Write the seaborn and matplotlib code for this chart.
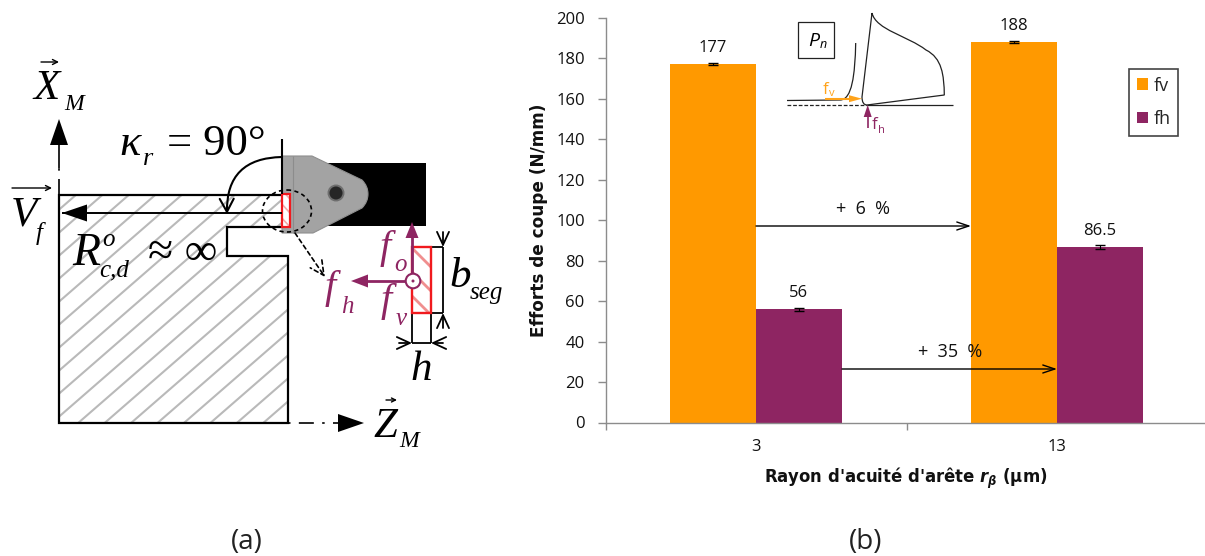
import numpy as np
import pandas as pd
import seaborn as sns
import matplotlib as mpl
import matplotlib.pyplot as plt
from matplotlib.path import Path
from matplotlib.patches import Polygon, Rectangle, Circle, Ellipse, PathPatch, FancyArrowPatch

# chart values
rayons = ["3", "13"]
fv = [177, 188]
fh = [56, 86.5]
fv_err = [0.5, 0.4]
fh_err = [0.8, 1.0]
yticks = list(range(0, 201, 20))

ORANGE = "#FF9900"
PURPLE = "#8E2562"
RED = "#F01A1E"
W, H = 1205, 556

sns.set_theme(style="white")
plt.rcParams["font.family"] = ["Open Sans", "DejaVu Sans"]
plt.rcParams["mathtext.fontset"] = "custom"
plt.rcParams["mathtext.rm"] = "DejaVu Sans"
plt.rcParams["mathtext.bfit"] = "DejaVu Sans:italic:bold"
plt.rcParams["mathtext.bf"] = "DejaVu Sans:bold"
plt.rcParams["mathtext.it"] = "DejaVu Sans:italic"

fig = plt.figure(figsize=(W / 100, H / 100), dpi=100)

# (b) bar chart
ax = fig.add_axes([605.5 / W, 1 - 422.5 / H, 602 / W, 404.8 / H])
df = pd.DataFrame({"rayon": rayons * 2, "effort": fv + fh,
                   "type": ["fv"] * 2 + ["fh"] * 2})
sns.barplot(data=df, x="rayon", y="effort", hue="type", order=rayons,
            palette={"fv": ORANGE, "fh": PURPLE}, width=0.571, gap=0,
            saturation=1, errorbar=None, linewidth=0, ax=ax)

for cont, err in zip(ax.containers, [fv_err, fh_err]):
    xs = [b.get_x() + b.get_width() / 2 for b in cont]
    ys = [b.get_height() for b in cont]
    ax.errorbar(xs, ys, yerr=err, fmt="none", ecolor="black", elinewidth=0.8,
                capsize=3.5, capthick=1.0, zorder=5)
    ax.bar_label(cont, fmt="%g", padding=6, fontsize=12, color="#111111")

ax.set_xlim(-0.5, 1.5)
ax.set_ylim(0, 200)
ax.set_yticks(yticks)
ax.set_xticks([-0.5, 0.5, 1.5], minor=True)
ax.tick_params(axis="x", which="major", length=0, pad=12, labelsize=12, labelcolor="#111111")
ax.tick_params(axis="x", which="minor", length=5, width=1, color="#8c8c8c", bottom=True)
ax.tick_params(axis="y", length=6, width=1, color="#8c8c8c", left=True, pad=9,
               labelsize=12, labelcolor="#111111")
sns.despine(ax=ax)
for s in ["left", "bottom"]:
    ax.spines[s].set_color("#8c8c8c")
    ax.spines[s].set_linewidth(1)
ax.set_xlabel(r"Rayon d'acuité d'arête $\mathbfit{r}_{\mathbfit{\beta}}$ (µm)",
              fontsize=11.9, fontweight="bold", color="#111111", family="DejaVu Sans")
ax.xaxis.set_label_coords((906 - 605.5) / 602, (422.5 - 478) / 404.8, transform=ax.transAxes)
ax.xaxis.label.set_verticalalignment("center")
ax.set_ylabel("Efforts de coupe (N/mm)", fontsize=12.2, fontweight="bold", color="#111111",
              family="DejaVu Sans")
ax.yaxis.set_label_coords((548 - 605.5) / 602, 0.5)

leg = ax.legend(loc="upper left", bbox_to_anchor=(1129 / W, 1 - 69 / H), bbox_transform=fig.transFigure,
                borderaxespad=0, fontsize=13, handlelength=0.62, handleheight=0.62, handletextpad=0.32,
                labelspacing=0.85, borderpad=0.42, fancybox=False, framealpha=1,
                edgecolor="#444444", title=None)
leg.get_frame().set_linewidth(1.2)

# overlay in picture pixels for the sketch (a), inset and arrows
ov = fig.add_axes([0, 0, 1, 1], zorder=10)
ov.set_xlim(0, W)
ov.set_ylim(H, 0)
ov.axis("off")
ov.patch.set_alpha(0)

SERIF = "Liberation Serif"


def txt(x, y, s, size=30, color="black", style="italic", family=SERIF, **kw):
    ov.text(x, y, s, fontsize=size, color=color, style=style, family=family,
            va="baseline", ha=kw.pop("ha", "left"), **kw)


def line(xs, ys, lw=1.5, color="black", **kw):
    ov.plot(xs, ys, lw=lw, color=color, solid_capstyle="butt", **kw)


def head(tip, base, half, color="black"):
    # filled triangle arrow head
    tip = np.array(tip, float)
    base = np.array(base, float)
    d = tip - base
    n = np.array([-d[1], d[0]]) / np.hypot(*d) * half
    ov.add_patch(Polygon([tip, base + n, base - n], closed=True, fc=color, ec="none", zorder=6))


def open_arrow(p0, p1, lw=1.3, ls="-", hl=9, hw=5, cs=None):
    ov.add_patch(FancyArrowPatch(p0, p1, arrowstyle=f"->,head_length={hl * 0.72},head_width={hw * 0.72}",
                                 mutation_scale=1, lw=lw, ls=ls, color="black", shrinkA=0, shrinkB=0,
                                 connectionstyle=cs or "arc3", zorder=7))


def hatch(clip, c0, c1, step, slope, color, lw, z=1):
    # parallel lines cut to the shape
    for c in np.arange(c0, c1, step):
        l, = ov.plot([0, W], [c, c + slope * W], color=color, lw=lw, zorder=z)
        l.set_clip_path(clip)


# workpiece
piece = [(59, 194.5), (283, 194.5), (283, 227), (227, 227), (227, 256), (288, 256), (288, 423), (59, 423)]
piece_p = Polygon(piece, closed=True, fc="white", ec="none", zorder=0)
ov.add_patch(piece_p)
hatch(piece_p, 100, 1100, 23, -0.87, "#b9b9b9", 1.5)
ov.add_patch(Polygon(piece, closed=True, fc="none", ec="black", lw=1.6, zorder=3))

# machine axes
line([59, 59], [194, 168], lw=1.2, ls=(0, (9, 5, 1.5, 5)))
line([59, 59], [168, 145], lw=1.2)
head((59, 119), (59, 145), 9)
line([288, 338], [423, 423], lw=1.2, ls=(0, (1.5, 5, 9, 5)))
head((364, 423), (338, 423), 9)

# tool
ov.add_patch(Rectangle((327, 163), 99, 63, fc="black", ec="none", zorder=4))
tool = Path([(282, 156), (312, 156), (362, 180), (368, 186), (368, 194), (368, 202), (362, 208),
             (313, 233), (282, 233), (282, 156)],
            [Path.MOVETO, Path.LINETO, Path.LINETO, Path.CURVE3, Path.CURVE3, Path.CURVE3, Path.CURVE3,
             Path.LINETO, Path.LINETO, Path.CLOSEPOLY])
ov.add_patch(PathPatch(tool, fc="#a3a3a3", ec="#8f8f8f", lw=0.8, zorder=4))
line([293, 293], [156, 233], lw=0.8, color="#8c8c8c", zorder=5)
ov.add_patch(Circle((336, 193), 7.5, fc="#262626", ec="#6e6e6e", lw=1.4, zorder=5))

# cutting zone
small = Rectangle((282, 194), 8, 33, fc="white", ec="none", zorder=5)
ov.add_patch(small)
hatch(small, -400, 300, 14, 1.1, "#f5a9a9", 1.2, z=5.5)
ov.add_patch(Rectangle((282, 194), 8, 33, fc="none", ec=RED, lw=1.6, zorder=6))
ov.add_patch(Ellipse((287, 211), 49, 42, fc="none", ec="black", lw=1.2, ls=(0, (2.5, 2)), zorder=7))
line([282, 282], [139, 194], lw=1.5, zorder=7)
line([282, 62], [213, 213], lw=1.4, zorder=6)
head((62, 213), (87, 213), 8.5)
open_arrow((282, 157), (227, 214), lw=1.5, hl=13, hw=7, cs="arc3,rad=0.5")
open_arrow((295, 233), (325, 277), lw=1.2, ls=(0, (2.5, 2)), hl=14, hw=7)

# chip section detail
big = Rectangle((412, 247), 19, 66, fc="white", ec="none", zorder=2)
ov.add_patch(big)
hatch(big, -500, 100, 24, 1.0, "#f08f8f", 2.0, z=2.5)
ov.add_patch(Rectangle((412, 247), 19, 66, fc="none", ec=RED, lw=1.7, zorder=6))
line([431, 443], [247, 247], lw=1.3)
line([431, 443], [313, 313], lw=1.3)
line([443, 443], [247, 313], lw=1.3)
open_arrow((443, 232), (443, 247), lw=1.3, hl=13, hw=6)
open_arrow((443, 328), (443, 313), lw=1.3, hl=13, hw=6)
line([412, 412], [313, 343], lw=1.3)
line([431, 431], [313, 343], lw=1.3)
line([412, 431], [343, 343], lw=1.3)
open_arrow((399, 343), (412, 343), lw=1.3, hl=13, hw=6)
open_arrow((443, 343), (431, 343), lw=1.3, hl=13, hw=6)

# forces on section
line([412, 412], [281, 236], lw=2, color=PURPLE, zorder=7)
head((412, 222), (412, 238), 6.5, PURPLE)
line([405, 362], [281, 281], lw=2, color=PURPLE, zorder=7)
head((351, 281), (368, 281), 6.5, PURPLE)
ov.add_patch(Circle((413, 281), 7.3, fc="white", ec=PURPLE, lw=1.5, zorder=8))
ov.add_patch(Circle((413, 281), 1.5, fc=PURPLE, ec="none", zorder=9))

# sketch labels
txt(33, 99, "X", 31)
txt(64, 110, "M", 17)
open_arrow((41, 62), (59, 62), lw=1, hl=5, hw=2.5)
txt(119, 155, "κ", 32)
txt(143, 165, "r", 19)
txt(167, 155, "= 90°", 32, style="normal")
txt(11, 225, "V", 31)
txt(36, 240, "f", 18)
open_arrow((12, 188), (52, 188), lw=1, hl=5, hw=2.5)
txt(72, 265, "R", 33)
txt(102, 246, "o", 18)
txt(99, 276, "c,d", 18)
txt(148, 265, "≈ ∞", 33, style="normal")
txt(373, 437, "Z", 31)
txt(399, 447, "M", 17)
open_arrow((386, 400), (397, 400), lw=1, hl=4, hw=2)
txt(380, 258, "f", 29, PURPLE)
txt(394, 271, "o", 18, PURPLE)
txt(381, 311, "f", 29, PURPLE)
txt(396, 325, "v", 18, PURPLE)
txt(325, 298, "f", 29, PURPLE)
txt(341, 313, "h", 18, PURPLE)
txt(449, 287, "b", 31)
txt(470, 299, "seg", 18)
txt(410, 380, "h", 31)

# inset Pn
ov.add_patch(Rectangle((798, 22), 36, 36, fc="white", ec="#222222", lw=0.9))
txt(808, 46, "P", 14, style="italic", family="Open Sans")
txt(820, 48, "n", 9, style="italic", family="Open Sans")
chip = Path([(872, 13), (876, 30), (908, 36), (926, 50), (942, 58), (944, 75), (944.3, 95),
             (867, 105), (862, 105), (862, 97), (872, 13)],
            [Path.MOVETO, Path.CURVE4, Path.CURVE4, Path.CURVE4, Path.CURVE4, Path.CURVE4, Path.CURVE4,
             Path.LINETO, Path.CURVE3, Path.CURVE3, Path.LINETO])
ov.add_patch(PathPatch(chip, fc="none", ec="#222222", lw=0.9, zorder=6))
line([867, 953], [105, 105], lw=0.9, color="#222222")
line([787, 867], [105, 105], lw=0.9, color="#222222", ls=(0, (3, 1.5)))
surf = Path([(787, 100.5), (840, 100), (852, 100), (855, 75), (855.7, 43)],
            [Path.MOVETO, Path.LINETO, Path.CURVE4, Path.CURVE4, Path.CURVE4])
ov.add_patch(PathPatch(surf, fc="none", ec="#222222", lw=0.9))
line([825, 852], [98.7, 98.7], lw=1.5, color="#FFA31A", zorder=6)
head((862, 98.7), (849, 98.7), 3.5, "#FFA31A")
txt(823, 94, "f", 12, "#FFA31A", style="normal", family="Open Sans")
txt(829, 96, "v", 8, "#FFA31A", style="normal", family="Open Sans")
line([867.7, 867.7], [128, 114], lw=1.2, color=PURPLE, zorder=6)
head((867.7, 105), (867.7, 117), 4, PURPLE)
txt(872, 129, "f", 12, PURPLE, style="normal", family="Open Sans")
txt(878, 133, "h", 8, PURPLE, style="normal", family="Open Sans")

# gains between tools
open_arrow((756, 226), (971, 226), lw=1, hl=12, hw=4)
open_arrow((842, 369), (1057, 369), lw=1, hl=12, hw=4)
ov.annotate("+  6  %", (863, 214), ha="center", va="baseline", fontsize=13, color="#111111")
ov.annotate("+  35  %", (950, 357), ha="center", va="baseline", fontsize=13, color="#111111")

# panel letters
ov.text(247, 549, "(a)", fontsize=20, ha="center", va="baseline", color="#222222")
ov.text(866, 549, "(b)", fontsize=20, ha="center", va="baseline", color="#222222")

fig.savefig("out.png", dpi=100)
